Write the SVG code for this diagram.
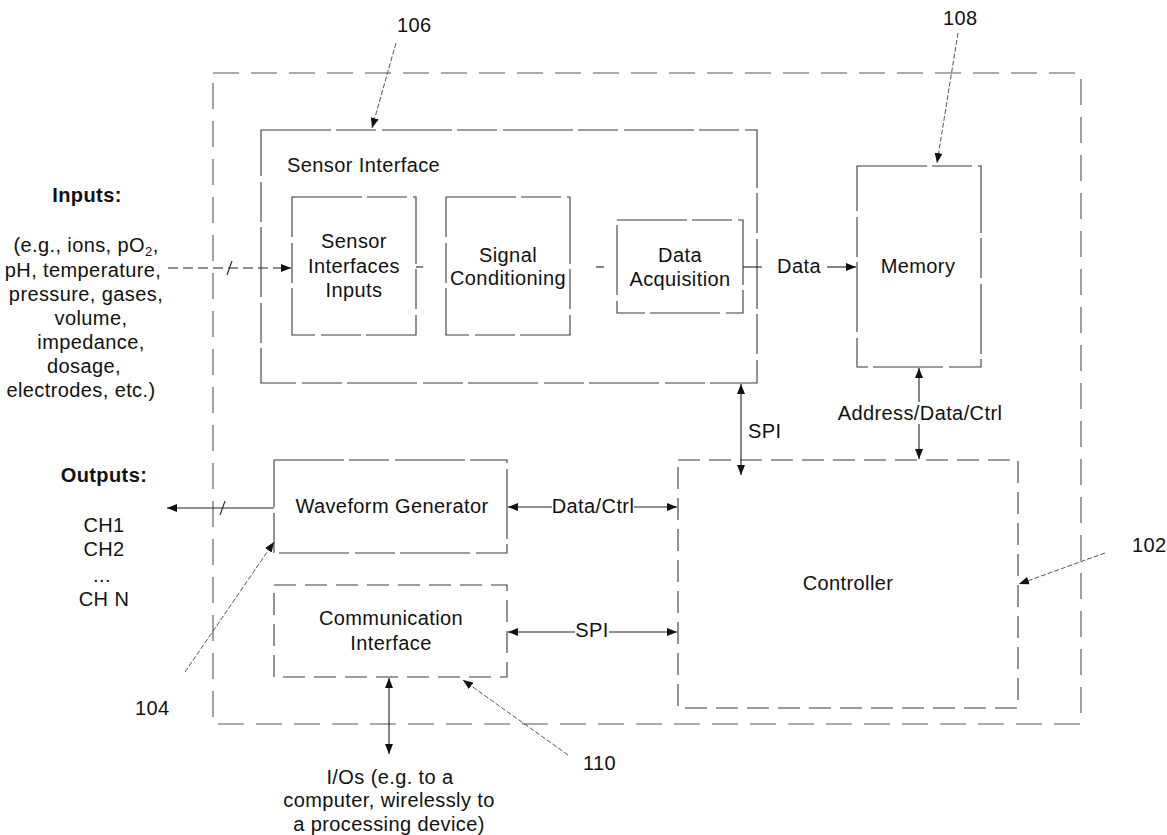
<svg xmlns="http://www.w3.org/2000/svg" width="1167" height="835" viewBox="0 0 1167 835">
  <defs>
    <marker id="arrow" viewBox="0 0 10 8" refX="10" refY="4" markerWidth="10" markerHeight="8" markerUnits="userSpaceOnUse" orient="auto-start-reverse">
      <path d="M0,0 L10,4 L0,8 z" fill="#111"/>
    </marker>
    <style>
      text { font-family: "Liberation Sans", Arial, sans-serif; font-size: 20px; letter-spacing: 0.4px; fill: #111; }
      .c { text-anchor: middle; }
      .b { font-weight: bold; }
      .box { fill: none; stroke: #3a3a3a; stroke-width: 1.1; }
      .dash { stroke-dasharray: 26 12; stroke: #555; }
      .dash2 { stroke-dasharray: 22 9; }
      .brk { stroke-dasharray: 70 5 40 6; }
      .line { fill: none; stroke: #222; stroke-width: 1.1; }
      .lead { fill: none; stroke: #555; stroke-width: 1; stroke-dasharray: 5 2; }
    </style>
  </defs>
  <rect width="1167" height="835" fill="#fff"/>

  <!-- device enclosure -->
  <rect id="device" class="box dash" x="213" y="73" width="868" height="651"/>

  <!-- sensor interface block with its stages -->
  <g id="sensor-interface">
    <rect class="box brk" x="261" y="130" width="496" height="253"/>
    <text x="287" y="172">Sensor Interface</text>
  </g>
  <g id="sensor-inputs">
    <rect class="box brk" x="292" y="197" width="124" height="138"/>
    <text class="c" x="354" y="248">Sensor</text>
    <text class="c" x="354" y="273">Interfaces</text>
    <text class="c" x="354" y="297">Inputs</text>
  </g>
  <g id="signal-conditioning">
    <rect class="box brk" x="446" y="197" width="124" height="138"/>
    <text class="c" x="508" y="262">Signal</text>
    <text class="c" x="508" y="285">Conditioning</text>
  </g>
  <g id="data-acquisition">
    <rect class="box brk" x="617" y="220" width="126" height="93"/>
    <text class="c" x="680" y="262">Data</text>
    <text class="c" x="680" y="286">Acquisition</text>
  </g>
  <g id="memory">
    <rect class="box brk" x="857" y="166" width="124" height="201"/>
    <text class="c" x="918" y="273">Memory</text>
  </g>
  <g id="waveform-generator">
    <rect class="box brk" x="274" y="460" width="233" height="93"/>
    <text class="c" x="392" y="513">Waveform Generator</text>
  </g>
  <g id="communication-interface">
    <rect class="box dash2" x="274" y="585" width="233" height="92"/>
    <text class="c" x="391" y="625">Communication</text>
    <text class="c" x="391" y="650">Interface</text>
  </g>
  <g id="controller">
    <rect class="box dash2" x="678" y="460" width="340" height="248"/>
    <text class="c" x="848" y="590">Controller</text>
  </g>

  <!-- inputs and outputs -->
  <g id="inputs">
    <text class="c b" x="87" y="202">Inputs:</text>
    <text class="c" x="86" y="252">(e.g., ions, pO<tspan font-size="13" dy="4">2</tspan><tspan dy="-4">,</tspan></text>
    <text class="c" x="83" y="277">pH, temperature,</text>
    <text class="c" x="86" y="301">pressure, gases,</text>
    <text class="c" x="91" y="325">volume,</text>
    <text class="c" x="91" y="349">impedance,</text>
    <text class="c" x="84" y="373">dosage,</text>
    <text class="c" x="81" y="397">electrodes, etc.)</text>
  </g>
  <g id="outputs">
    <text class="c b" x="104" y="482">Outputs:</text>
    <text class="c" x="104" y="532">CH1</text>
    <text class="c" x="104" y="556">CH2</text>
    <text class="c" x="102" y="582">...</text>
    <text class="c" x="104" y="606">CH N</text>
  </g>
  <g id="io-note">
    <text class="c" x="390" y="784">I/Os (e.g. to a</text>
    <text class="c" x="389" y="807">computer, wirelessly to</text>
    <text class="c" x="389" y="831">a processing device)</text>
  </g>

  <!-- connectors -->
  <g id="connectors">
    <line class="line" x1="168" y1="268" x2="291" y2="268" stroke-dasharray="10 5" marker-end="url(#arrow)"/>
    <line class="line" x1="227" y1="275" x2="232" y2="261"/>
    <line class="line" x1="416" y1="267" x2="423" y2="267"/>
    <line class="line" x1="596" y1="267" x2="604" y2="267"/>
    <line class="line" x1="743" y1="267" x2="762" y2="267"/>
    <text class="c" x="799" y="273">Data</text>
    <line class="line" x1="827" y1="267" x2="856" y2="267" marker-end="url(#arrow)"/>

    <line class="line" x1="741" y1="384" x2="741" y2="475" marker-start="url(#arrow)" marker-end="url(#arrow)"/>
    <text x="748" y="438">SPI</text>
    <line class="line" x1="919" y1="368" x2="919" y2="459" marker-start="url(#arrow)" marker-end="url(#arrow)"/>
    <rect x="836" y="402" width="168" height="22" fill="#fff"/>
    <text class="c" x="920" y="420">Address/Data/Ctrl</text>

    <line class="line" x1="508" y1="507" x2="677" y2="507" marker-start="url(#arrow)" marker-end="url(#arrow)"/>
    <rect x="552" y="494" width="82" height="24" fill="#fff"/>
    <text class="c" x="593" y="513">Data/Ctrl</text>

    <line class="line" x1="508" y1="632" x2="677" y2="632" marker-start="url(#arrow)" marker-end="url(#arrow)"/>
    <rect x="575" y="620" width="34" height="22" fill="#fff"/>
    <text class="c" x="592" y="637">SPI</text>

    <line class="line" x1="274" y1="508" x2="167" y2="508" marker-end="url(#arrow)"/>
    <line class="line" x1="220" y1="515" x2="225" y2="501"/>

    <line class="line" x1="389" y1="678" x2="389" y2="754" marker-start="url(#arrow)" marker-end="url(#arrow)"/>
  </g>

  <!-- reference numerals -->
  <g id="labels">
    <text x="397" y="32">106</text>
    <line class="lead" x1="396" y1="43" x2="372" y2="128" marker-end="url(#arrow)"/>
    <text x="943" y="25">108</text>
    <line class="lead" x1="958" y1="33" x2="937" y2="163" marker-end="url(#arrow)"/>
    <text x="1132" y="552">102</text>
    <line class="lead" x1="1105" y1="553" x2="1019" y2="584" marker-end="url(#arrow)"/>
    <text x="135" y="715">104</text>
    <line class="lead" x1="185" y1="672" x2="274" y2="542" marker-end="url(#arrow)"/>
    <text x="583" y="770">110</text>
    <line class="lead" x1="568" y1="755" x2="463" y2="680" marker-end="url(#arrow)"/>
  </g>
</svg>
